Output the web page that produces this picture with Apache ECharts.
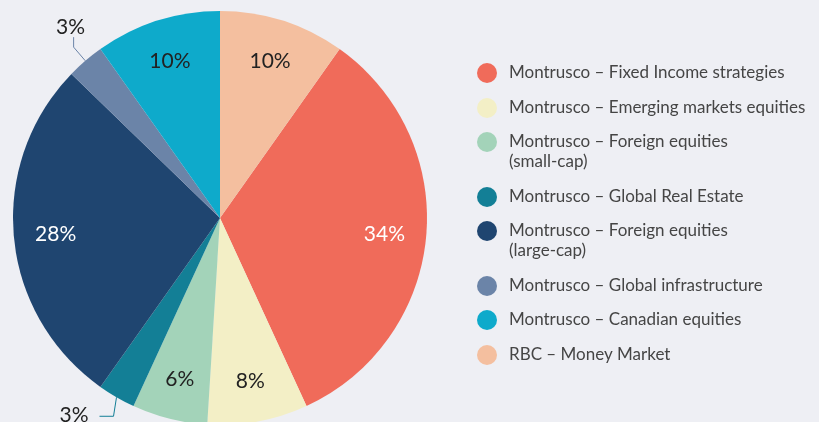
<!DOCTYPE html>
<html lang="en">
<head>
<meta charset="UTF-8">
<title>Allocation</title>
<script src="https://cdn.jsdelivr.net/npm/echarts@6/dist/echarts.min.js"></script>
<style>
    html, body { margin: 0; padding: 0; background: #eeeff4; }
    #main { width: 819px; height: 422px; }
</style>
</head>
<body>
<div id="main"></div>

<script type="text/javascript">
    // fund names, in legend order
    var names = [
        'Montrusco – Fixed Income strategies',
        'Montrusco – Emerging markets equities',
        'Montrusco – Foreign equities\n(small-cap)',
        'Montrusco – Global Real Estate',
        'Montrusco – Foreign equities\n(large-cap)',
        'Montrusco – Global infrastructure',
        'Montrusco – Canadian equities',
        'RBC – Money Market'
    ];
    // percentage shown on each slice
    var values = [34, 8, 6, 3, 28, 3, 10, 10];

    var colors = ['#f06b5a', '#f3efc6', '#a3d3b9', '#137f96', '#1f4570', '#6b84a8', '#0eaacb', '#f4bf9f'];
    var labelColors = ['#ffffff', '#222222', '#222222', '#222222', '#ffffff', '#222222', '#222222', '#222222'];

    var cx = 220, cy = 218, radius = 207;

    var total = 0;
    for (var i = 0; i < values.length; i++) total += values[i];
    // last slice (RBC) ends at 12 o'clock
    var startAngle = 90 - values[values.length - 1] / total * 360;

    var pieData = [];
    for (var i = 0; i < names.length; i++) {
        var item = {
            name: names[i],
            value: values[i],
            itemStyle: { color: colors[i] },
            label: { color: labelColors[i] }
        };
        if (values[i] <= 3) {
            // small slices get their label outside with a leader line
            item.label = { position: 'outside', color: '#222222' };
            item.labelLine = { show: true, length: 18, length2: 12 };
        }
        pieData.push(item);
    }

    // one legend block per entry so two-line names keep the dot on their first line
    var legendTextColor = '#454545';
    var legends = [];
    var rowTop = 63;
    for (var i = 0; i < names.length; i++) {
        var lines = names[i].split('\n').length;
        legends.push({
            orient: 'vertical',
            left: 477,
            top: Math.round(rowTop - (lines - 1) * 20),
            padding: 0,
            itemWidth: 20,
            itemHeight: 20,
            icon: 'circle',
            selectedMode: false,
            data: [names[i]],
            formatter: function (name) {
                var parts = name.split('\n');
                if (parts.length > 1) {
                    return '{a|' + parts[0] + '}\n{b|' + parts[1] + '}';
                }
                return name;
            },
            textStyle: {
                fontFamily: 'Lato',
                fontSize: 17,
                color: legendTextColor,
                lineHeight: 20,
                padding: [0, 0, 0, 7],
                rich: {
                    a: { fontFamily: 'Lato', fontSize: 17, color: legendTextColor, height: 20, lineHeight: 40, verticalAlign: 'bottom' },
                    b: { fontFamily: 'Lato', fontSize: 17, color: legendTextColor, height: 20, lineHeight: 20 }
                }
            }
        });
        rowTop += lines * 20 + 14.5;
    }

    var myChart = echarts.init(document.getElementById('main'), null, { renderer: 'canvas' });

    var option = {
        backgroundColor: '#eeeff4',
        animation: false,
        legend: legends,
        series: [
            {
                type: 'pie',
                center: [cx, cy],
                radius: radius,
                startAngle: startAngle,
                clockwise: true,
                avoidLabelOverlap: false,
                label: {
                    position: 'inside',
                    formatter: '{c}%',
                    fontFamily: 'Lato',
                    fontSize: 21,
                    distanceToLabelLine: 11
                },
                labelLine: { show: false, lineStyle: { width: 1 } },
                emphasis: { disabled: true },
                labelLayout: function (p) {
                    if (values[p.dataIndex] <= 3) {
                        var pts = p.labelLinePoints;
                        if (!pts) return {};
                        var p0 = pts[0];
                        if (pts[1][1] < p0[1]) {
                            // upper slice: leader line turns straight up
                            var up = [pts[1][0], pts[1][1] - 10];
                            return {
                                labelLinePoints: [p0, pts[1], up],
                                x: up[0] - 3,
                                y: up[1] + 1,
                                align: 'center',
                                verticalAlign: 'bottom'
                            };
                        }
                        // lower slice: drop down, then run left
                        var down = [p0[0] - 3, p0[1] + 19];
                        var end = [down[0] - 14, down[1]];
                        return {
                            labelLinePoints: [p0, down, end],
                            x: end[0] - 11,
                            y: end[1] - 1,
                            align: 'right',
                            verticalAlign: 'middle'
                        };
                    }
                    // push inside labels out towards the rim
                    var r = p.labelRect;
                    var lx = r.x + r.width / 2, ly = r.y + r.height / 2;
                    return {
                        x: cx + (lx - cx) * 1.55,
                        y: cy + (ly - cy) * 1.55 + 1,
                        align: 'center',
                        verticalAlign: 'middle'
                    };
                },
                data: pieData
            }
        ]
    };

    myChart.setOption(option);
</script>
</body>
</html>
